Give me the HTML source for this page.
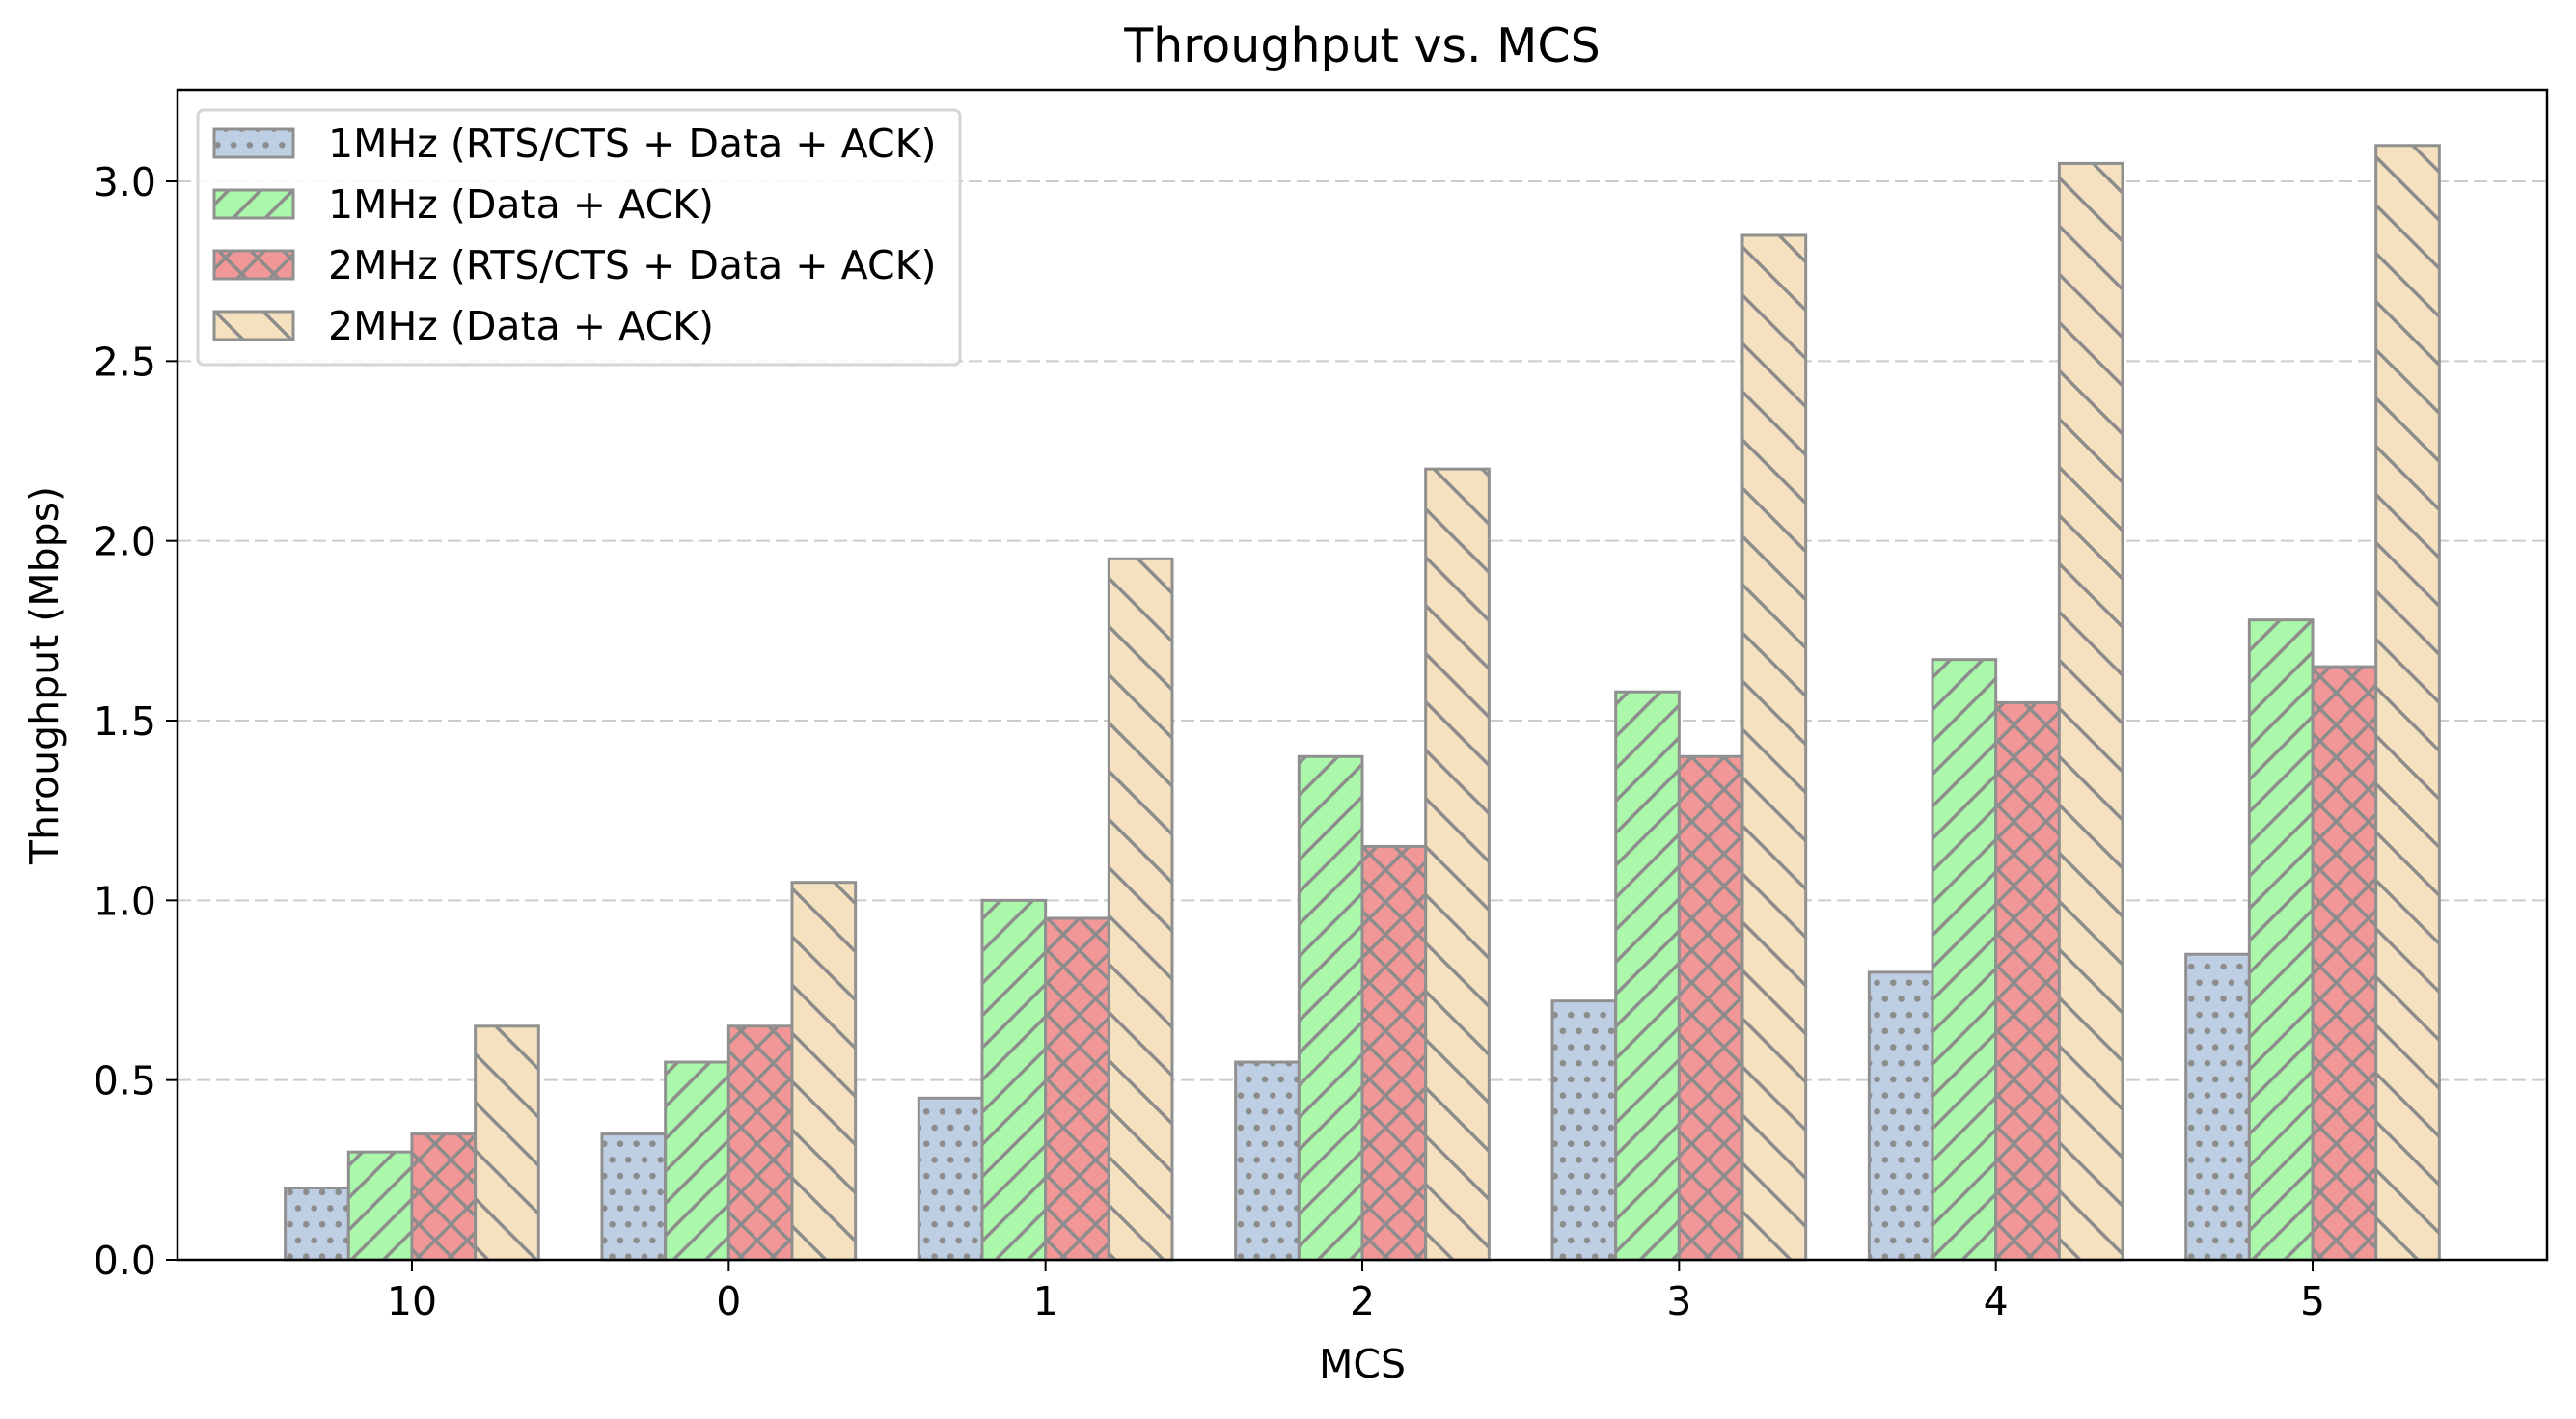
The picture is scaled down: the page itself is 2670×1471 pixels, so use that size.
<!DOCTYPE html>
<html><head><meta charset="utf-8"><style>
html,body{margin:0;padding:0;background:#fff;}
svg text{font-family:"DejaVu Sans","Liberation Sans",sans-serif;fill:#000;}
</style></head><body>
<svg id="chart" width="2670" height="1466" viewBox="0 0 2670 1466" xmlns="http://www.w3.org/2000/svg">
<defs>
<pattern id="p-dots" patternUnits="userSpaceOnUse" width="33.4" height="33.4"><rect width="33.4" height="33.4" fill="#bfcfe3"/><g fill="#8c8c8c"><circle cx="0" cy="0" r="3.3"/><circle cx="16.7" cy="0" r="3.3"/><circle cx="33.4" cy="0" r="3.3"/><circle cx="8.35" cy="16.7" r="3.3"/><circle cx="25.05" cy="16.7" r="3.3"/><circle cx="0" cy="33.4" r="3.3"/><circle cx="16.7" cy="33.4" r="3.3"/><circle cx="33.4" cy="33.4" r="3.3"/></g></pattern>
<pattern id="p-fwd" patternUnits="userSpaceOnUse" width="33.4" height="33.4"><rect width="33.4" height="33.4" fill="#abf8ab"/><path d="M-5,5 L5,-5 M0,33.4 L33.4,0 M28.4,38.4 L38.4,28.4" stroke="#8c8c8c" stroke-width="3.5"/></pattern>
<pattern id="p-cross" patternUnits="userSpaceOnUse" width="33.4" height="33.4"><rect width="33.4" height="33.4" fill="#f19797"/><path d="M-5,5 L5,-5 M0,33.4 L33.4,0 M28.4,38.4 L38.4,28.4 M-5,28.4 L5,38.4 M0,0 L33.4,33.4 M28.4,-5 L38.4,5" stroke="#8c8c8c" stroke-width="3.5"/></pattern>
<pattern id="p-back" patternUnits="userSpaceOnUse" width="50" height="50"><rect width="50" height="50" fill="#f5e1bf"/><path d="M-5,45 L5,55 M0,0 L50,50 M45,-5 L55,5" stroke="#8c8c8c" stroke-width="3.5"/></pattern>
</defs>
<g id="grid"></g>
<g id="bars"></g>
<g id="axes"></g>
<text x="1412" y="64" font-size="49" text-anchor="middle">Throughput vs. MCS</text>
<text x="1412" y="1428" font-size="41" text-anchor="middle">MCS</text>
<text x="60" y="700" font-size="41" text-anchor="middle" transform="rotate(-90 60 700)">Throughput (Mbps)</text>
<g id="legend"></g>
</svg>
<script>
const categories = ["10","0","1","2","3","4","5"];
const seriesNames = ["1MHz (RTS/CTS + Data + ACK)","1MHz (Data + ACK)","2MHz (RTS/CTS + Data + ACK)","2MHz (Data + ACK)"];
const s1 = [0.20,0.35,0.45,0.55,0.72,0.80,0.85];
const s2 = [0.30,0.55,1.00,1.40,1.58,1.67,1.78];
const s3 = [0.35,0.65,0.95,1.15,1.40,1.55,1.65];
const s4 = [0.65,1.05,1.95,2.20,2.85,3.05,3.10];
const yTicks = [0.0,0.5,1.0,1.5,2.0,2.5,3.0];
const yTickLabels = ["0.0","0.5","1.0","1.5","2.0","2.5","3.0"];

const series=[s1,s2,s3,s4];
const fills=["url(#p-dots)","url(#p-fwd)","url(#p-cross)","url(#p-back)"];
const L=184,R=2640,T=93,B=1306;
const xmin=-0.74,xmax=categories.length-1+0.74;
const allMax=Math.max(...s1,...s2,...s3,...s4);
const ymax=allMax*1.05;
const xs=v=>L+(v-xmin)/(xmax-xmin)*(R-L);
const ys=v=>B-v/ymax*(B-T);
const NS="http://www.w3.org/2000/svg";
function mk(tag,attrs,parent){const e=document.createElementNS(NS,tag);for(const k in attrs)e.setAttribute(k,attrs[k]);parent.appendChild(e);return e;}
const grid=document.getElementById('grid'),bars=document.getElementById('bars'),axes=document.getElementById('axes'),legend=document.getElementById('legend');
yTicks.forEach((t,i)=>{
  if(t>0){const g=mk('line',{x1:L,x2:R,y1:ys(t),y2:ys(t),stroke:'#cccccc','stroke-width':2,'stroke-dasharray':'14,6'},grid);
  
  }
  const tk=mk('line',{x1:L-12,x2:L,y1:ys(t),y2:ys(t),stroke:'#000','stroke-width':2},axes);
  
  
  const tx=mk('text',{x:L-22,y:ys(t)+15,'font-size':41,'text-anchor':'end'},axes);
  tx.textContent=yTickLabels[i];
  
  
});
const w=0.2;
series.forEach((s,j)=>{
  s.forEach((v,i)=>{
    const c=i+(j-1.5)*w;
    const x0=xs(c-w/2),x1=xs(c+w/2);
    const r=mk('rect',{x:x0,y:ys(v),width:x1-x0,height:B-ys(v),fill:fills[j],stroke:'#909090','stroke-width':3},bars);
    
    
  });
});
categories.forEach((c,i)=>{
  const tk=mk('line',{x1:xs(i),x2:xs(i),y1:B,y2:B+12,stroke:'#000','stroke-width':2},axes);
  
  
  const tx=mk('text',{x:xs(i),y:B+57,'font-size':41,'text-anchor':'middle'},axes);
  tx.textContent=c;
  
  
});
const fr=mk('rect',{x:L,y:T,width:R-L,height:B-T,fill:'none',stroke:'#000','stroke-width':2.5},axes);


const lb=mk('rect',{x:205,y:114,width:790,height:264,rx:6,fill:'rgba(255,255,255,0.85)',stroke:'#d5d5d5','stroke-width':3},legend);


const ly=[148,211,274,337];
seriesNames.forEach((n,j)=>{
  const p=mk('rect',{x:222,y:ly[j]-14,width:82,height:29,fill:fills[j],stroke:'#909090','stroke-width':3},legend);
  
  
  const t=mk('text',{x:340,y:ly[j]+15,'font-size':41},legend);
  t.textContent=n;
  
  
});
</script>
</body></html>
